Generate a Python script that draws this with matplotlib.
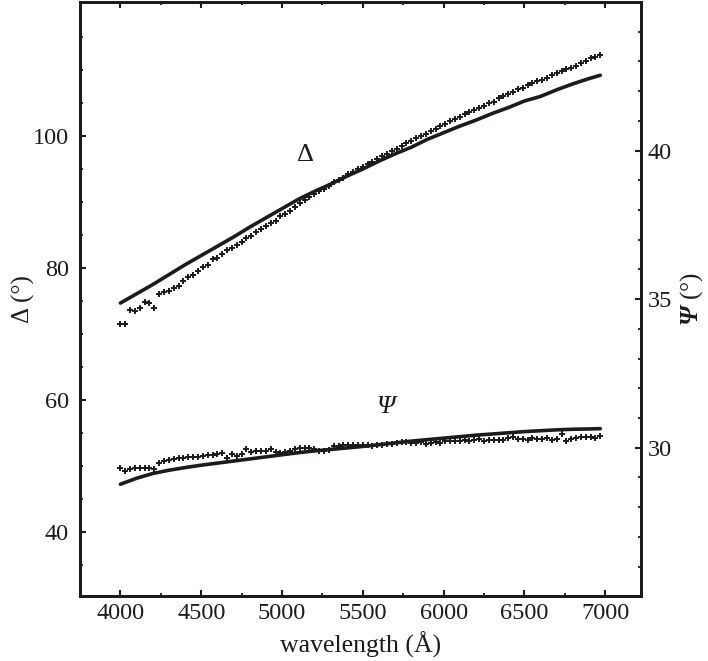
import numpy as np
import matplotlib
matplotlib.use("Agg")
import matplotlib.pyplot as plt
from matplotlib.ticker import FixedLocator

plt.rcParams['font.family'] = ['Liberation Serif', 'DejaVu Serif']
plt.rcParams['mathtext.fontset'] = 'custom'
plt.rcParams['mathtext.rm'] = 'Liberation Serif'
plt.rcParams['mathtext.it'] = 'Liberation Serif:italic'
plt.rcParams['mathtext.bf'] = 'Liberation Serif:bold'
plt.rcParams['mathtext.bfit'] = 'Liberation Serif:italic:bold'

ink = '#1c1a1b'

# model curves (solid), sampled every 100 A
wl_model = [4000, 4100, 4200, 4300, 4400, 4500, 4600, 4700, 4800, 4900,
            5000, 5100, 5200, 5300, 5400, 5500, 5600, 5700, 5800, 5900,
            6000, 6100, 6200, 6300, 6400, 6500, 6600, 6700, 6800, 6900, 6970]
delta_model = [74.7, 76.1, 77.5, 79.0, 80.5, 81.9, 83.3, 84.7, 86.2, 87.6,
               89.0, 90.4, 91.6, 92.7, 93.9, 95.0, 96.2, 97.3, 98.3, 99.5,
               100.5, 101.5, 102.4, 103.4, 104.3, 105.3, 106.0, 107.0, 107.9, 108.7, 109.2]
psi_model = [28.77, 28.97, 29.13, 29.24, 29.33, 29.41, 29.48, 29.55, 29.62, 29.69,
             29.76, 29.83, 29.89, 29.94, 29.99, 30.04, 30.10, 30.16, 30.22, 30.27,
             30.32, 30.37, 30.42, 30.46, 30.50, 30.54, 30.57, 30.60, 30.62, 30.63, 30.64]

# measured points (+), every 30 A from 4000 to 6970
wl_meas = np.arange(4000, 7000, 30)
delta_meas = [71.5, 71.6, 73.7, 73.5, 73.9, 74.9, 74.7, 74.0, 76.0, 76.4,
              76.6, 77.0, 77.3, 78.0, 78.6, 79.0, 79.6, 80.2, 80.5, 81.3,
              81.6, 82.1, 82.8, 83.1, 83.5, 84.0, 84.5, 84.9, 85.4, 85.9,
              86.3, 86.8, 87.2, 87.9, 88.2, 88.7, 89.3, 89.8, 90.3, 90.7,
              91.2, 91.6, 92.0, 92.5, 93.0, 93.3, 93.7, 94.2, 94.6, 95.0,
              95.3, 95.8, 96.1, 96.5, 96.9, 97.3, 97.7, 98.1, 98.5, 98.9,
              99.3, 99.7, 100.0, 100.3, 100.7, 101.1, 101.5, 101.8, 102.3, 102.6,
              102.9, 103.4, 103.7, 104.0, 104.2, 104.6, 105.0, 105.2, 105.7, 106.1,
              106.3, 106.7, 107.1, 107.3, 107.8, 108.1, 108.3, 108.5, 108.8, 109.2,
              109.5, 109.8, 110.1, 110.3, 110.6, 111.0, 111.3, 111.8, 112.0, 112.2]
psi_meas = [29.32, 29.22, 29.27, 29.30, 29.31, 29.32, 29.30, 29.28, 29.50, 29.56,
            29.60, 29.62, 29.64, 29.66, 29.68, 29.70, 29.70, 29.72, 29.74, 29.76,
            29.80, 29.82, 29.66, 29.79, 29.72, 29.78, 29.95, 29.86, 29.90, 29.88,
            29.88, 29.95, 29.85, 29.82, 29.84, 29.88, 29.97, 29.99, 30.00, 30.00,
            29.95, 29.90, 29.90, 29.92, 30.05, 30.07, 30.08, 30.08, 30.09, 30.08,
            30.10, 30.08, 30.06, 30.10, 30.09, 30.12, 30.11, 30.16, 30.18, 30.20,
            30.17, 30.15, 30.18, 30.14, 30.16, 30.18, 30.17, 30.22, 30.24, 30.21,
            30.21, 30.26, 30.22, 30.27, 30.30, 30.24, 30.27, 30.27, 30.26, 30.27,
            30.32, 30.36, 30.28, 30.28, 30.27, 30.33, 30.28, 30.30, 30.32, 30.25,
            30.28, 30.45, 30.22, 30.30, 30.33, 30.35, 30.36, 30.35, 30.33, 30.40]

fig = plt.figure(figsize=(7.08, 6.61), dpi=100)
ax = fig.add_axes([0.113, 0.098, 0.792, 0.899])
ax2 = ax.twinx()

ax.plot(wl_model, delta_model, color=ink, lw=2.6, solid_capstyle='round')
ax.plot(wl_meas, delta_meas, ls='none', marker='+', ms=5, mew=1.4, color=ink)
ax2.plot(wl_model, psi_model, color=ink, lw=2.6, solid_capstyle='round')
ax2.plot(wl_meas, psi_meas, ls='none', marker='+', ms=5, mew=1.4, color=ink)

ax.set_xlim(3750, 7220)
ax.set_ylim(30.3, 120.3)
ax2.set_ylim(25, 45)

ax.xaxis.set_major_locator(FixedLocator([4000, 4500, 5000, 5500, 6000, 6500, 7000]))
ax.xaxis.set_minor_locator(FixedLocator([4250, 4750, 5250, 5750, 6250, 6750]))
ax.yaxis.set_major_locator(FixedLocator([40, 60, 80, 100]))
ax.yaxis.set_minor_locator(FixedLocator([35, 45, 50, 55, 65, 70, 75, 85, 90, 95, 105, 110, 115]))
ax2.yaxis.set_major_locator(FixedLocator([30, 35, 40]))
ax2.yaxis.set_minor_locator(FixedLocator([26, 27, 28, 29, 31, 32, 33, 34, 36, 37, 38, 39, 41, 42, 43, 44]))

for a in (ax, ax2):
    for s in a.spines.values():
        s.set_linewidth(2)
        s.set_color(ink)
    a.tick_params(which='major', direction='in', length=4.5, width=1.5, colors=ink, labelsize=17.5)
    a.tick_params(which='minor', direction='in', length=2.5, width=1.3, colors=ink)
ax.tick_params(axis='x', which='both', top=True, pad=5)
ax.tick_params(axis='y', which='both', right=False, pad=8)
ax2.tick_params(axis='y', which='both', pad=5)

ax.set_xlabel('wavelength (Å)', fontsize=18.5, color=ink)
ax.set_ylabel('Δ (°)', fontsize=18, color=ink)
ax2.set_ylabel(r'$\mathbfit{Ψ}$ (°)', fontsize=18, color=ink)

# fixed label placement (centre of each label)
ax.xaxis.set_label_coords(0.5, -0.082)
ax.xaxis.label.set_verticalalignment('center')
ax.yaxis.set_label_coords(-0.101, 0.5)
ax.yaxis.label.set_verticalalignment('center')
ax2.yaxis.set_label_coords(1.091, 0.5)
ax2.yaxis.label.set_verticalalignment('center')

ax.text(5143, 97.1, 'Δ', fontsize=19, color=ink, ha='center', va='center')
ax.text(5637, 58.9, 'Ψ', fontsize=19, fontstyle='italic', color=ink, ha='center', va='center')

fig.savefig('out.png', dpi=100)
